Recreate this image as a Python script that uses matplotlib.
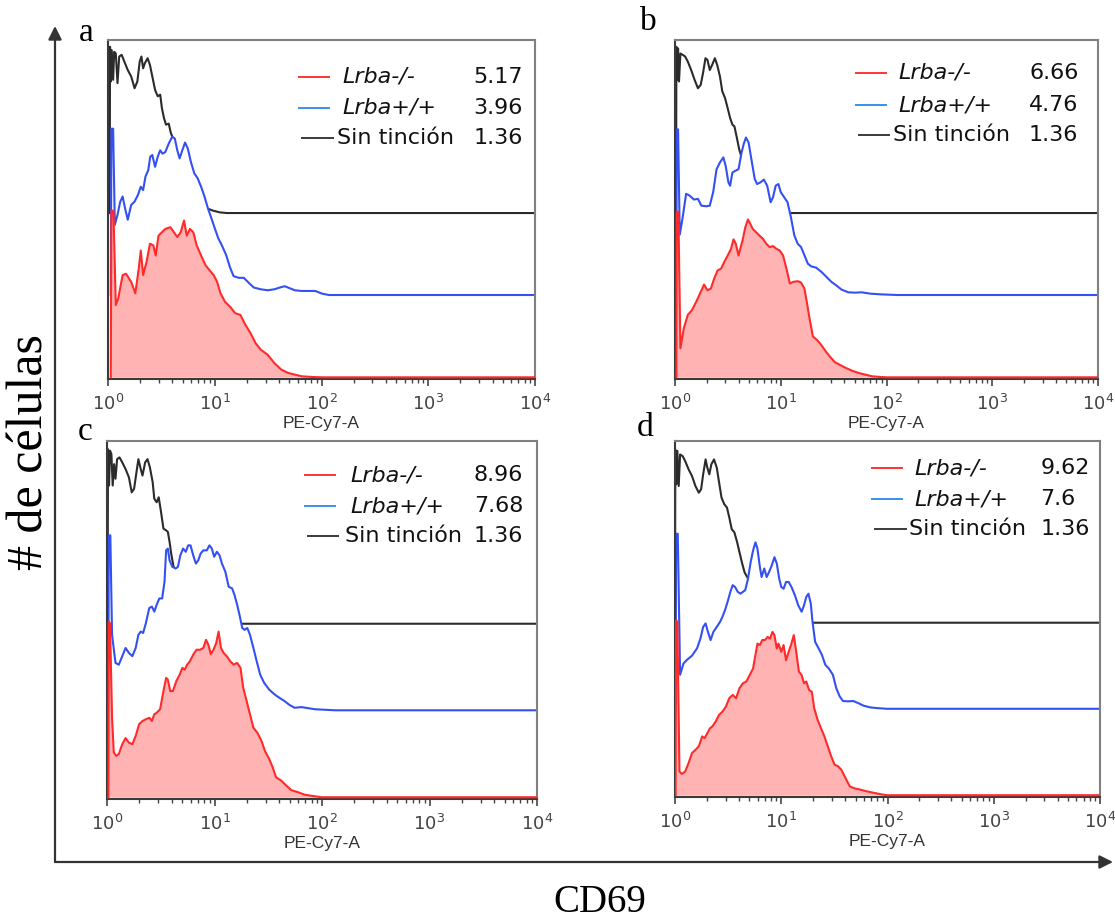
import numpy as np
import matplotlib.pyplot as plt
from matplotlib.patches import FancyArrowPatch

plt.rcParams['mathtext.fontset'] = 'custom'
plt.rcParams['mathtext.rm'] = 'Liberation Sans'
plt.rcParams['mathtext.it'] = 'Liberation Sans:italic'

# CD69 histograms, points as (log10 PE-Cy7-A, % of panel height above the curve's own baseline)
a_red = [(0.026, 0), (0.032, 49.4), (0.051, 49.4), (0.073, 21.4), (0.096, 23.4), (0.137, 30.3), (0.169, 30.7),
         (0.217, 28.3), (0.256, 24.9), (0.288, 32.2), (0.307, 37.6), (0.329, 30.3), (0.361, 34.2), (0.393, 39.6),
         (0.425, 39.1), (0.447, 36.1), (0.473, 42.0), (0.505, 43.0), (0.537, 44.0), (0.585, 44.5), (0.617, 43.0),
         (0.649, 41.6), (0.681, 43.0), (0.712, 46.5), (0.738, 42.0), (0.767, 44.0), (0.799, 43.0), (0.831, 39.1),
         (0.872, 36.1), (0.914, 33.2), (0.952, 31.7), (0.990, 30.3), (1.022, 28.3), (1.054, 24.9), (1.096, 22.4),
         (1.144, 20.9), (1.192, 19.0), (1.240, 18.5), (1.288, 15.5), (1.335, 13.1), (1.383, 10.1), (1.431, 8.2),
         (1.495, 6.7), (1.559, 4.2), (1.623, 2.3), (1.687, 1.3), (1.751, 0.8), (1.815, 0.3), (1.911, 0.1),
         (2.006, 0), (4.0, 0)]
a_blue = [(0.026, 0), (0.032, 49.3), (0.048, 49.3), (0.064, 20.8), (0.089, 23.8), (0.115, 27.7), (0.137, 29.2),
          (0.160, 25.7), (0.185, 22.3), (0.217, 26.7), (0.249, 27.7), (0.281, 29.7), (0.307, 32.1), (0.329, 31.1),
          (0.351, 35.1), (0.377, 37.0), (0.396, 41.0), (0.415, 41.5), (0.441, 38.0), (0.466, 41.0), (0.489, 42.9),
          (0.511, 41.9), (0.537, 42.4), (0.569, 44.9), (0.601, 46.9), (0.626, 46.4), (0.649, 42.9), (0.671, 40.5),
          (0.696, 42.9), (0.722, 45.2), (0.748, 43.4), (0.776, 39.5), (0.808, 36.1), (0.840, 34.6), (0.872, 32.1),
          (0.904, 29.2), (0.936, 25.7), (0.968, 22.8), (1.000, 19.8), (1.032, 16.9), (1.064, 14.9), (1.105, 12.0),
          (1.144, 8.1), (1.176, 5.6), (1.224, 5.1), (1.272, 5.1), (1.319, 3.6), (1.367, 2.2), (1.431, 1.7),
          (1.495, 1.4), (1.559, 1.7), (1.607, 2.2), (1.655, 2.6), (1.703, 2.0), (1.751, 1.4), (1.815, 1.2),
          (1.879, 1.2), (1.942, 1.2), (2.006, 0.4), (2.070, 0), (4.0, 0)]
a_black = [(0.016, 0), (0.019, 49.3), (0.026, 39.0), (0.035, 48.3), (0.048, 39.5), (0.058, 47.8), (0.073, 47.3),
           (0.089, 38.5), (0.105, 46.4), (0.128, 46.9), (0.153, 44.9), (0.185, 42.4), (0.217, 40.5), (0.249, 37.0),
           (0.275, 39.0), (0.297, 44.9), (0.313, 46.4), (0.329, 42.9), (0.345, 44.4), (0.371, 45.9), (0.393, 43.9),
           (0.415, 40.5), (0.441, 36.5), (0.466, 34.6), (0.489, 35.1), (0.505, 31.1), (0.524, 28.2), (0.543, 26.2),
           (0.569, 26.5), (0.588, 23.8), (0.607, 22.3), (0.696, 13.0), (0.792, 6.1), (0.856, 3.1), (0.927, 1.4),
           (0.984, 0.7), (1.048, 0.2), (1.112, 0), (4.0, 0)]

b_red = [(0.013, 0), (0.016, 49.1), (0.032, 49.1), (0.051, 8.6), (0.083, 14.5), (0.121, 18.5), (0.160, 19.9),
         (0.201, 22.4), (0.243, 25.3), (0.275, 27.5), (0.307, 25.8), (0.339, 26.3), (0.371, 29.3), (0.403, 31.7),
         (0.435, 32.2), (0.466, 34.2), (0.498, 36.1), (0.530, 38.1), (0.553, 40.9), (0.575, 39.6), (0.601, 36.1),
         (0.617, 38.1), (0.639, 40.6), (0.665, 44.5), (0.690, 46.8), (0.712, 45.5), (0.735, 44.0), (0.767, 43.0),
         (0.799, 42.0), (0.831, 41.1), (0.863, 39.6), (0.895, 38.6), (0.927, 38.9), (0.958, 38.1), (0.990, 37.6),
         (1.022, 36.1), (1.054, 32.2), (1.086, 27.8), (1.118, 28.3), (1.160, 28.5), (1.192, 28.1), (1.224, 26.3),
         (1.246, 22.4), (1.272, 17.5), (1.304, 12.1), (1.342, 11.1), (1.383, 9.6), (1.425, 7.7), (1.463, 6.2),
         (1.511, 4.5), (1.559, 3.7), (1.607, 2.9), (1.671, 2.0), (1.735, 1.3), (1.799, 0.8), (1.863, 0.3),
         (1.942, 0.1), (2.006, 0), (4.0, 0)]
b_blue = [(0.013, 0), (0.016, 49.1), (0.029, 49.1), (0.045, 17.9), (0.073, 23.1), (0.105, 30.0), (0.137, 29.5),
          (0.179, 28.3), (0.217, 28.5), (0.249, 26.5), (0.297, 26.3), (0.329, 26.5), (0.361, 30.5), (0.393, 37.3),
          (0.425, 39.3), (0.457, 40.8), (0.479, 38.3), (0.505, 33.4), (0.521, 32.4), (0.543, 36.3), (0.569, 36.8),
          (0.601, 37.3), (0.626, 41.7), (0.649, 44.7), (0.671, 46.7), (0.696, 45.2), (0.722, 40.3), (0.754, 34.4),
          (0.776, 32.9), (0.808, 33.4), (0.840, 34.2), (0.872, 32.4), (0.904, 27.5), (0.927, 29.0), (0.952, 32.4),
          (0.978, 32.9), (1.000, 30.5), (1.032, 29.0), (1.064, 27.5), (1.096, 23.1), (1.128, 17.7), (1.160, 15.2),
          (1.192, 14.2), (1.224, 11.8), (1.256, 9.3), (1.288, 8.5), (1.335, 8.1), (1.383, 6.9), (1.431, 5.4),
          (1.479, 3.9), (1.527, 2.8), (1.575, 1.6), (1.639, 0.8), (1.703, 0.7), (1.767, 0.8), (1.847, 0.4),
          (1.942, 0.2), (2.102, 0), (4.0, 0)]
b_black = [(0.010, 0), (0.013, 49.3), (0.019, 39.5), (0.029, 48.8), (0.038, 39.0), (0.051, 47.3), (0.073, 46.9),
           (0.096, 46.4), (0.121, 44.9), (0.153, 42.4), (0.185, 39.5), (0.217, 37.0), (0.243, 38.0), (0.265, 41.5),
           (0.288, 45.9), (0.307, 45.4), (0.329, 42.4), (0.351, 43.9), (0.377, 45.9), (0.399, 43.9), (0.425, 40.5),
           (0.447, 36.1), (0.473, 34.1), (0.498, 31.1), (0.521, 28.2), (0.543, 26.2), (0.562, 25.7), (0.585, 22.3),
           (0.607, 18.9), (0.626, 16.9), (0.696, 12.0), (0.792, 6.1), (0.888, 2.7), (0.984, 1.2), (1.032, 0.6),
           (1.086, 0), (4.0, 0)]

c_red = [(0.013, 0), (0.016, 49.3), (0.028, 48.8), (0.047, 22.3), (0.063, 12.6), (0.085, 11.6), (0.110, 12.1),
         (0.142, 14.9), (0.173, 16.6), (0.204, 15.3), (0.236, 14.9), (0.267, 17.2), (0.299, 20.5), (0.330, 21.4),
         (0.362, 21.9), (0.393, 22.3), (0.418, 21.4), (0.440, 23.3), (0.462, 23.7), (0.494, 24.7), (0.525, 29.8),
         (0.550, 33.5), (0.566, 33.0), (0.588, 29.8), (0.613, 29.8), (0.645, 32.6), (0.676, 34.4), (0.701, 36.3),
         (0.723, 35.8), (0.745, 37.2), (0.770, 38.1), (0.802, 40.0), (0.833, 41.4), (0.865, 41.4), (0.896, 41.9),
         (0.921, 44.2), (0.943, 42.8), (0.965, 40.2), (0.991, 41.4), (1.016, 43.3), (1.038, 46.5), (1.060, 41.9),
         (1.085, 40.5), (1.116, 39.5), (1.148, 38.1), (1.179, 37.2), (1.211, 37.7), (1.242, 36.3), (1.267, 30.7),
         (1.299, 27.0), (1.330, 23.3), (1.362, 19.5), (1.399, 18.1), (1.437, 15.8), (1.469, 13.0), (1.509, 10.7),
         (1.541, 8.4), (1.572, 5.6), (1.619, 4.7), (1.667, 3.3), (1.714, 2.0), (1.777, 1.4), (1.840, 0.7),
         (1.903, 0.4), (1.997, 0), (4.0, 0)]
c_blue = [(0.013, 0), (0.016, 49.1), (0.031, 49.1), (0.047, 21.2), (0.079, 13.3), (0.110, 12.8), (0.142, 15.2),
          (0.173, 17.5), (0.204, 16.1), (0.236, 15.2), (0.267, 17.5), (0.292, 21.2), (0.314, 22.1), (0.336, 21.7),
          (0.362, 24.5), (0.393, 28.7), (0.418, 29.1), (0.440, 27.7), (0.462, 29.6), (0.487, 31.4), (0.513, 31.4),
          (0.535, 36.1), (0.550, 44.9), (0.566, 45.4), (0.582, 42.1), (0.607, 40.3), (0.638, 39.8), (0.660, 40.3),
          (0.682, 43.5), (0.708, 45.4), (0.733, 44.5), (0.755, 46.3), (0.777, 46.3), (0.802, 43.5), (0.827, 41.2),
          (0.849, 42.1), (0.871, 44.0), (0.896, 44.9), (0.928, 44.9), (0.953, 46.3), (0.975, 45.4), (0.997, 43.1),
          (1.022, 44.5), (1.047, 43.5), (1.069, 41.2), (1.101, 38.9), (1.132, 34.7), (1.164, 34.2), (1.186, 32.4),
          (1.211, 29.6), (1.236, 26.3), (1.258, 23.1), (1.280, 22.6), (1.305, 23.1), (1.330, 21.2), (1.362, 17.5),
          (1.393, 13.7), (1.425, 10.0), (1.462, 7.7), (1.509, 5.8), (1.557, 4.5), (1.604, 3.5), (1.651, 2.6),
          (1.698, 1.5), (1.745, 0.7), (1.808, 0.9), (1.871, 0.6), (1.934, 0.3), (1.997, 0.2), (2.123, 0), (4.0, 0)]
c_black = [(0.006, 0), (0.009, 49.0), (0.019, 38.8), (0.028, 48.6), (0.041, 47.6), (0.053, 38.8), (0.066, 44.8),
           (0.079, 40.7), (0.094, 46.2), (0.116, 46.7), (0.142, 45.3), (0.173, 43.4), (0.204, 41.1), (0.230, 36.9),
           (0.252, 37.9), (0.274, 42.5), (0.292, 46.2), (0.314, 43.4), (0.330, 41.6), (0.355, 45.3), (0.377, 46.2),
           (0.399, 43.9), (0.425, 39.7), (0.440, 35.1), (0.462, 34.1), (0.481, 35.5), (0.503, 31.3), (0.525, 26.7),
           (0.550, 26.2), (0.566, 25.8), (0.582, 23.0), (0.597, 19.7), (0.619, 16.0), (0.638, 15.1), (0.660, 15.5),
           (0.708, 10.9), (0.802, 6.2), (0.928, 3.0), (1.053, 1.1), (1.179, 0.4), (1.248, 0), (4.0, 0)]

d_red = [(0.006, 0), (0.010, 49.4), (0.022, 48.9), (0.042, 6.7), (0.064, 6.0), (0.096, 6.7), (0.128, 9.1),
         (0.160, 11.9), (0.192, 12.8), (0.224, 13.8), (0.256, 16.6), (0.278, 16.1), (0.304, 17.5), (0.329, 18.9),
         (0.351, 19.4), (0.383, 20.8), (0.415, 22.7), (0.447, 23.6), (0.479, 25.0), (0.511, 27.4), (0.543, 28.3),
         (0.575, 27.4), (0.607, 30.2), (0.639, 31.6), (0.671, 32.1), (0.703, 33.9), (0.735, 35.8), (0.757, 39.6),
         (0.776, 42.8), (0.799, 42.4), (0.821, 43.8), (0.847, 43.8), (0.872, 44.7), (0.895, 44.2), (0.917, 46.1),
         (0.936, 45.2), (0.958, 41.4), (0.974, 42.8), (1.000, 40.5), (1.022, 42.4), (1.045, 38.1), (1.070, 40.5),
         (1.096, 42.8), (1.118, 45.2), (1.141, 40.5), (1.166, 34.9), (1.192, 33.9), (1.214, 31.6), (1.236, 32.1),
         (1.262, 29.7), (1.288, 29.2), (1.310, 24.6), (1.342, 21.3), (1.374, 18.9), (1.406, 16.6), (1.438, 13.8),
         (1.470, 11.0), (1.502, 8.6), (1.534, 8.2), (1.565, 7.2), (1.597, 5.3), (1.645, 2.5), (1.693, 1.9),
         (1.741, 1.6), (1.805, 1.1), (1.869, 0.7), (1.933, 0.3), (1.997, 0), (4.0, 0)]
d_blue = [(0.006, 0), (0.010, 49.4), (0.026, 49.4), (0.048, 9.6), (0.080, 12.8), (0.112, 13.8), (0.160, 15.0),
          (0.208, 17.1), (0.240, 19.9), (0.265, 23.1), (0.288, 24.1), (0.310, 21.7), (0.335, 19.4), (0.361, 21.7),
          (0.393, 23.1), (0.425, 24.6), (0.447, 26.0), (0.470, 27.8), (0.495, 30.2), (0.521, 33.0), (0.543, 34.9),
          (0.565, 34.4), (0.591, 33.0), (0.617, 32.5), (0.639, 33.0), (0.661, 33.5), (0.687, 36.7), (0.712, 41.4),
          (0.735, 44.7), (0.757, 47.0), (0.776, 45.2), (0.799, 40.0), (0.815, 37.2), (0.840, 39.6), (0.863, 37.2),
          (0.885, 38.6), (0.911, 40.5), (0.936, 42.8), (0.958, 41.0), (0.981, 36.7), (1.000, 34.4), (1.022, 33.9),
          (1.045, 35.8), (1.070, 35.8), (1.096, 34.4), (1.128, 32.1), (1.160, 29.2), (1.192, 27.4), (1.214, 29.2),
          (1.236, 31.6), (1.256, 32.5), (1.278, 29.7), (1.294, 24.6), (1.319, 18.9), (1.351, 17.1), (1.383, 15.2),
          (1.415, 12.4), (1.447, 11.4), (1.486, 9.6), (1.518, 5.8), (1.550, 3.5), (1.581, 2.2), (1.629, 2.1),
          (1.677, 2.2), (1.725, 1.6), (1.773, 0.9), (1.837, 0.4), (1.901, 0.2), (1.997, 0), (4.0, 0)]
d_black = [(0.000, 0), (0.003, 48.9), (0.013, 39.1), (0.022, 48.5), (0.035, 38.6), (0.048, 47.5), (0.073, 47.0),
           (0.096, 45.6), (0.128, 43.3), (0.160, 41.4), (0.192, 38.6), (0.224, 36.7), (0.246, 37.7), (0.265, 41.9),
           (0.288, 46.1), (0.304, 43.8), (0.323, 41.9), (0.342, 44.7), (0.367, 46.1), (0.393, 43.8), (0.415, 39.6),
           (0.438, 35.3), (0.463, 33.5), (0.489, 32.5), (0.511, 29.7), (0.534, 26.4), (0.559, 25.5), (0.585, 22.7),
           (0.607, 19.9), (0.629, 17.1), (0.655, 14.2), (0.681, 12.8), (0.703, 11.9), (0.815, 6.7), (0.942, 3.0),
           (1.070, 1.1), (1.198, 0.4), (1.300, 0), (4.0, 0)]

legend_labels = ['Lrba-/-', 'Lrba+/+', 'Sin tinción']
a_values = ['5.17', '3.96', '1.36']
b_values = ['6.66', '4.76', '1.36']
c_values = ['8.96', '7.68', '1.36']
d_values = ['9.62', '7.6', '1.36']

RED, PINK = '#ff2a2a', '#ffb3b3'
BLUE, BLACK = '#3450f2', '#2b2b2b'
legend_colors = ['#ff3333', '#3a8fe4', '#3a3a3a']
BLUE_OFFSET = 24.4
BLACK_OFFSET = 48.7

W, H = 1115, 923
fig = plt.figure(figsize=(W / 100, H / 100), dpi=100)


def px_rect(left, top, right, bottom):
    return [left / W, 1 - bottom / H, (right - left) / W, (bottom - top) / H]


def draw_panel(rect, red, blue, black, values, leg):
    ax = fig.add_axes(rect)
    ax.set_xscale('log')
    # back to front: unstained, wild type, knockout (filled)
    layers = [(black, BLACK_OFFSET, 'white', BLACK, 1),
              (blue, BLUE_OFFSET, 'white', BLUE, 2),
              (red, 0, PINK, RED, 3)]
    for pts, off, fill, line, z in layers:
        lx, y = np.array(pts).T
        x = 10 ** lx
        ax.fill_between(x, off, off + y, color=fill, lw=0, zorder=z)
        ax.plot(x, off + y, color=line, lw=1.5, zorder=z + 0.5)
    ax.set_xlim(1, 1e4)
    ax.set_ylim(-0.5, 100)
    ax.set_yticks([])
    ax.tick_params(axis='x', which='major', direction='out', length=5, width=1.2,
                   colors='#444', labelsize=13, pad=6)
    ax.tick_params(axis='x', which='minor', direction='out', length=3, width=1.0, colors='#444')
    for side, s in ax.spines.items():
        s.set_linewidth(1.5)
        s.set_color('#3a3a3a' if side in ('left', 'bottom') else '#808080')
    ax.set_xlabel('PE-Cy7-A', fontsize=12.5, family='Liberation Sans', color='#333', labelpad=1)

    x0, x1, xt, xv, rows = leg
    for i, (lab, val, col) in enumerate(zip(legend_labels, values, legend_colors)):
        y = rows[i]
        shift = 0.008 if i == 2 else 0
        ax.plot([x0 + shift, x1 + shift], [y, y], transform=ax.transAxes, color=col, lw=1.4, zorder=5)
        ax.text(xt - (0.012 if i == 2 else 0), y, lab, transform=ax.transAxes, fontsize=16,
                style='italic' if i < 2 else 'normal', va='center', ha='left', color='#111')
        ax.text(xv, y, val, transform=ax.transAxes, fontsize=16, va='center', ha='left', color='#111')
    return ax


draw_panel(px_rect(108, 40, 535, 379), a_red, a_blue, a_black, a_values,
           (0.447, 0.518, 0.548, 0.855, (0.891, 0.800, 0.711)))
draw_panel(px_rect(675, 40, 1098, 379), b_red, b_blue, b_black, b_values,
           (0.428, 0.499, 0.527, 0.837, (0.903, 0.808, 0.720)))
draw_panel(px_rect(107, 441, 537, 799), c_red, c_blue, c_black, c_values,
           (0.460, 0.530, 0.565, 0.853, (0.905, 0.818, 0.735)))
draw_panel(px_rect(675, 441, 1100, 797), d_red, d_blue, d_black, d_values,
           (0.463, 0.535, 0.563, 0.860, (0.924, 0.837, 0.753)))

# panel letters
serif = 'Liberation Serif'
for letter, (px, py) in zip('abcd', [(86, 33), (648, 22), (85, 432), (645, 428)]):
    fig.text(px / W, 1 - py / H, letter, fontsize=24, family=serif, ha='center', va='center')

# shared axes with arrow heads
arrow_kw = dict(transform=fig.transFigure, arrowstyle='-|>', mutation_scale=20,
                color='#333', lw=1.6, shrinkA=0, shrinkB=0)
fig.add_artist(FancyArrowPatch((55 / W, 1 - 862 / H), (55 / W, 1 - 26 / H), **arrow_kw))
fig.add_artist(FancyArrowPatch((55 / W, 1 - 862 / H), (1113 / W, 1 - 862 / H), **arrow_kw))

fig.text(30 / W, 1 - 452 / H, '# de células', rotation=90, fontsize=36, family=serif,
         ha='center', va='center')
fig.text(600 / W, 1 - 903 / H, 'CD69', fontsize=28, family=serif, ha='center', va='center')

fig.savefig('out.png', dpi=100)
